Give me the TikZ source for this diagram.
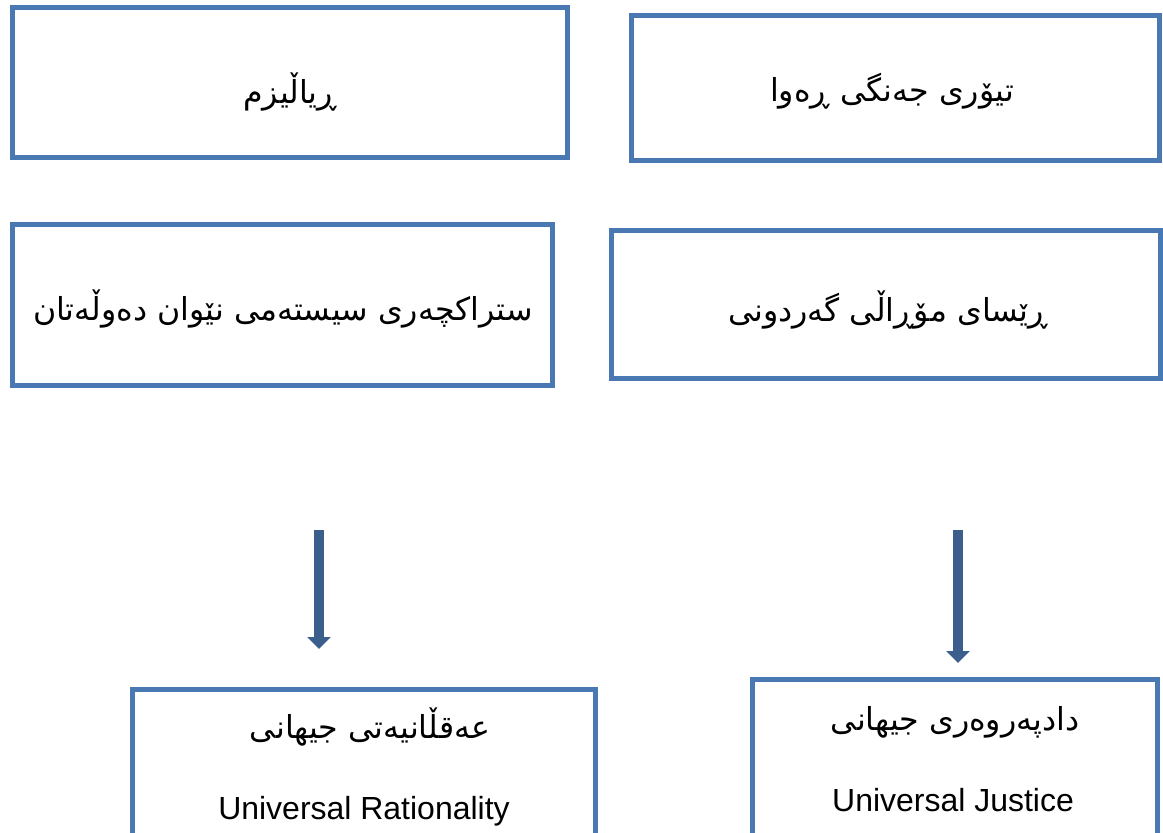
\documentclass[tikz,border=0pt]{standalone}
\usepackage{fontspec}
\setmainfont{Liberation Sans}
\newfontfamily\kurdfont[Script=Arabic]{DejaVu Sans}
\TeXXeTstate=1
\usetikzlibrary{positioning,arrows.meta}
\definecolor{boxblue}{RGB}{74,120,178}
\definecolor{arrowblue}{RGB}{59,94,140}

\begin{document}
\begin{tikzpicture}[x=0.02cm,y=-0.02cm,
  box/.style={draw=boxblue,line width=0.1cm,rectangle,inner sep=0pt},
  ku/.style={font=\kurdfont\fontsize{18}{21}\selectfont},
  en/.style={font=\fontsize{18.2}{22}\selectfont},
  flow/.style={draw=arrowblue,line width=0.2cm,-{Triangle[width=0.46cm,length=0.24cm]}}]
  \useasboundingbox (0,0) rectangle (1163,832);

  % boxes
  \node[box,minimum width=11.1cm,minimum height=3cm] (real) at (290,82.5) {};
  \node[box,minimum width=10.56cm,minimum height=2.92cm] (war) at (895.5,88) {};
  \node[box,minimum width=10.8cm,minimum height=3.22cm] (struct) at (282.5,305) {};
  \node[box,minimum width=10.99cm,minimum height=2.96cm] (moral) at (886.25,304.5) {};
  \node[box,minimum width=9.26cm,minimum height=3.02cm] (rat) at (364,765) {};
  \node[box,minimum width=8.1cm,minimum height=3.22cm] (just) at (955,760) {};

  % texts
  \node[ku] (real-ku) at (290,92) {\beginR ڕیاڵیزم\endR};
  \node[ku] (war-ku) at (892,91) {\beginR تیۆری جەنگی ڕەوا\endR};
  \node[ku] (struct-ku) at (283,309) {\beginR ستراکچەری سیستەمی نێوان دەوڵەتان\endR};
  \node[ku] (moral-ku) at (888,310) {\beginR ڕێسای مۆڕاڵی گەردونی\endR};
  \node[ku] (rat-ku) at (370,727) {\beginR عەقڵانیەتی جیهانی\endR};
  \node[ku] (just-ku) at (955,722) {\beginR دادپەروەری جیهانی\endR};
  \node[en] (rat-en) at (364,811) {Universal Rationality};
  \node[en] (just-en) at (953,800) {Universal Justice};

  % arrows
  \coordinate (a1s) at (319,530);
  \coordinate (a1e) at (319,649);
  \coordinate (a2s) at (958,530);
  \coordinate (a2e) at (958,663);
  \draw[flow] (a1s) -- (a1e);
  \draw[flow] (a2s) -- (a2e);
\end{tikzpicture}
\end{document}
